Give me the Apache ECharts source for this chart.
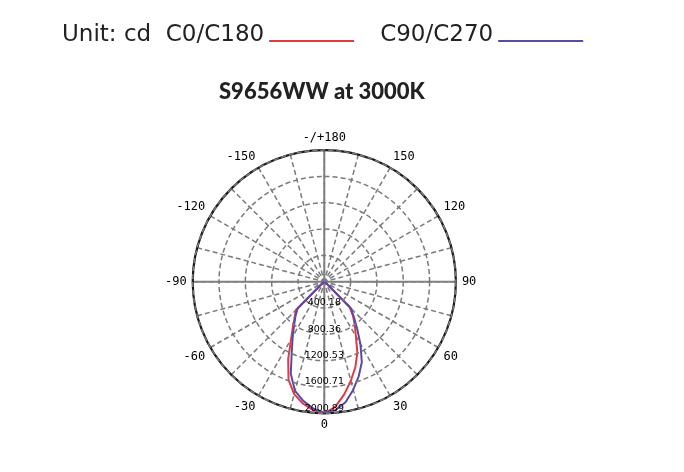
<!DOCTYPE html>
<html>
<head>
<meta charset="utf-8">
<script src="https://cdn.jsdelivr.net/npm/echarts@6/dist/echarts.min.js"></script>
<style>
html,body{margin:0;padding:0;background:#fff;}
#chart{width:684px;height:472px;}
</style>
</head>
<body>
<div id="chart"></div>
<script>
// Data
const titleText = 'S9656WW at 3000K';
const unitText = 'Unit: cd';
const seriesNames = ['C0/C180', 'C90/C270'];
const angles = [-90,-85,-80,-75,-70,-65,-60,-55,-50,-45,-40,-35,-30,-25,-20,-15,-10,-5,0,
                5,10,15,20,25,30,35,40,45,50,55,60,65,70,75,80,85,90];
const c0c180 = [0,4,6,8,10,12,15,22,45,610,700,830,1010,1300,1590,1770,1880,1960,2000.89,
                1910,1740,1560,1380,1190,960,810,680,545,45,22,15,12,10,8,6,4,0];
const c90c270 = [0,4,6,8,10,12,15,22,50,575,680,800,960,1170,1490,1720,1840,1935,1990,
                 1960,1860,1700,1530,1350,1100,870,700,575,50,22,15,12,10,8,6,4,0];
const ringLabels = ['400.18','800.36','1200.53','1600.71','2000.89'];
const radiusMax = 2000.89;
const colors = ['#e23a45', '#5a4aa6'];

function toPolar(vals) {
  return vals.map((v, i) => [v, angles[i] < 0 ? angles[i] + 360 : angles[i]]);
}

const chart = echarts.init(document.getElementById('chart'), null, {renderer: 'canvas'});
const center = [324.3, 281.7];
const radius = 131.6;

chart.setOption({
  backgroundColor: '#fff',
  animation: false,
  title: {
    text: titleText,
    left: 214,
    top: 76,
    textStyle: {fontFamily: 'Lato', fontWeight: 900, fontSize: 22, color: '#222'}
  },
  legend: {
    data: seriesNames,
    left: 57,
    top: 19,
    align: 'right',
    icon: 'path://M0,0 L0.01,0 L0.01,0.01 L0,0.01 Z M0,11 L85,11 L85,13 L0,13 Z',
    itemWidth: 85,
    itemHeight: 14,
    itemGap: 26,
    formatter: function (name) { return name === seriesNames[0] ? unitText + '  ' + name : name; },
    textStyle: {fontFamily: 'DejaVu Sans', fontSize: 23, color: '#222'}
  },
  polar: [
    {center: center, radius: radius},
    {center: center, radius: radius}
  ],
  angleAxis: [
    {
      polarIndex: 0,
      type: 'value',
      min: 0, max: 360, interval: 15,
      startAngle: 270,
      clockwise: false,
      axisLine: {show: true, lineStyle: {color: '#1a1a1a', width: 2.2}},
      axisTick: {show: false},
      axisLabel: {
        margin: 6,
        fontFamily: 'DejaVu Sans Mono',
        fontSize: 12,
        color: '#000',
        formatter: function (v) {
          if (v % 30 !== 0 || v === 360) return '';
          if (v === 180) return '-/+180';
          return String(v > 180 ? v - 360 : v);
        }
      },
      splitLine: {show: true, lineStyle: {color: '#7a7a7a', width: 1.5, type: [5, 3]}}
    },
    {
      polarIndex: 1,
      type: 'value',
      min: 0, max: 360, interval: 90,
      startAngle: 270,
      clockwise: false,
      axisLine: {show: false},
      axisTick: {show: false},
      axisLabel: {show: false},
      splitLine: {show: true, lineStyle: {color: '#808080', width: 2, type: 'solid'}}
    }
  ],
  radiusAxis: [
    {
      polarIndex: 0,
      type: 'value',
      min: 0, max: radiusMax, interval: radiusMax / 5,
      axisLine: {show: false},
      axisTick: {show: false},
      axisLabel: {
        show: true,
        margin: 0,
        align: 'center',
        verticalAlign: 'bottom',
        fontFamily: 'DejaVu Sans',
        fontSize: 9.5,
        color: '#000',
        formatter: function (v, i) { return i === 0 ? '' : (ringLabels[i - 1] || ''); }
      },
      splitLine: {show: true, lineStyle: {color: '#7a7a7a', width: 1.5, type: [5, 3]}},
      z: 5
    },
    {
      polarIndex: 1,
      type: 'value',
      min: 0, max: 1,
      axisLine: {show: false},
      axisTick: {show: false},
      axisLabel: {show: false},
      splitLine: {show: false}
    }
  ],
  series: [
    {
      name: seriesNames[0],
      type: 'line',
      coordinateSystem: 'polar',
      polarIndex: 0,
      data: toPolar(c0c180),
      showSymbol: false,
      symbol: 'none',
      lineStyle: {color: colors[0], width: 2},
      itemStyle: {color: colors[0]}
    },
    {
      name: seriesNames[1],
      type: 'line',
      coordinateSystem: 'polar',
      polarIndex: 0,
      data: toPolar(c90c270),
      showSymbol: false,
      symbol: 'none',
      lineStyle: {color: colors[1], width: 2},
      itemStyle: {color: colors[1]}
    }
  ]
});
</script>
</body>
</html>
